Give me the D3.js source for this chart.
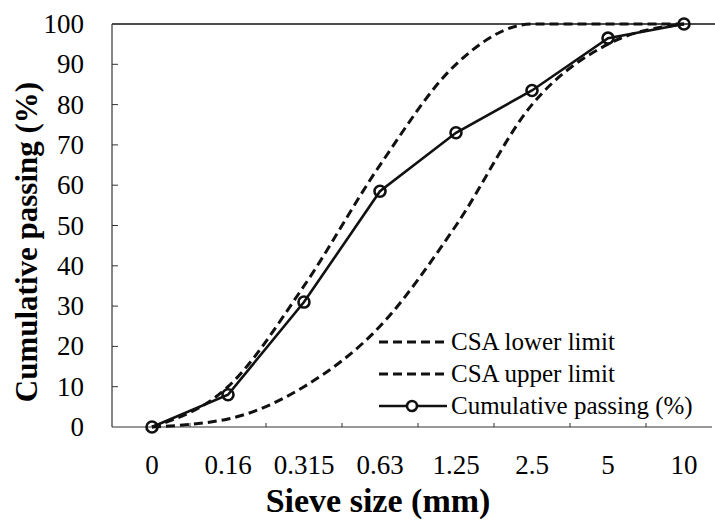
<!DOCTYPE html>
<html>
<head>
<meta charset="utf-8">
<script src="https://cdn.jsdelivr.net/npm/d3@7"></script>
</head>
<body style="margin:0">
<script>
const sieveSizes = ['0', '0.16', '0.315', '0.63', '1.25', '2.5', '5', '10'];
const lowerLimit = [0, 2, 10, 25, 50, 80, 95, 100];
const upperLimit = [0, 10, 35, 65, 90, 100, 100, 100];
const cumulativePassing = [0, 8, 31, 58.5, 73, 83.5, 96.5, 100];
const yTicks = [0, 10, 20, 30, 40, 50, 60, 70, 80, 90, 100];

const width = 715;
const height = 520;
const plotLeft = 112, plotTop = 24, plotBottom = 427;
const serifFont = () => '"Liberation Serif"';

const svg = d3.select('body').append('svg')
    .attr('width', width)
    .attr('height', height);

const x = d3.scaleBand()
    .domain(sieveSizes)
    .range([ 114, 722 ]);

const y = d3.scaleLinear()
    .domain([ 0, 100 ])
    .range([ plotBottom, plotTop ]);

const cx = d => x(d) + x.bandwidth() / 2;

// frame
svg.append('line')
    .attr('x1', plotLeft).attr('x2', width)
    .attr('y1', plotTop).attr('y2', plotTop)
    .attr('stroke', '#111').attr('stroke-width', 1.5);
svg.append('line')
    .attr('x1', plotLeft).attr('x2', plotLeft)
    .attr('y1', plotTop).attr('y2', plotBottom)
    .attr('stroke', '#333').attr('stroke-width', 1.2);
svg.append('line')
    .attr('x1', plotLeft).attr('x2', 712)
    .attr('y1', plotBottom).attr('y2', plotBottom)
    .attr('stroke', '#333').attr('stroke-width', 1.2);

// y ticks + labels
svg.selectAll('.ytick')
    .data(yTicks.slice(1, -1))
  .enter().append('line')
    .attr('x1', plotLeft).attr('x2', plotLeft + 6)
    .attr('y1', d => y(d)).attr('y2', d => y(d))
    .attr('stroke', '#333');

svg.selectAll('.ylab')
    .data(yTicks)
  .enter().append('text')
    .attr('x', 84)
    .attr('y', d => y(d) + 9)
    .attr('text-anchor', 'end')
    .attr('font-size', 27)
    .style('font-family', serifFont)
    .text(d => d);

// x ticks at category boundaries
svg.selectAll('.xtick')
    .data(sieveSizes.slice(1))
  .enter().append('line')
    .attr('x1', d => x(d)).attr('x2', d => x(d))
    .attr('y1', plotBottom).attr('y2', plotBottom - 4)
    .attr('stroke', '#333');

svg.selectAll('.xlab')
    .data(sieveSizes)
  .enter().append('text')
    .attr('x', d => cx(d))
    .attr('y', 474)
    .attr('text-anchor', 'middle')
    .attr('font-size', 27)
    .style('font-family', serifFont)
    .text(d => d);

// axis titles
svg.append('text')
    .attr('x', 378).attr('y', 512)
    .attr('text-anchor', 'middle')
    .attr('font-size', 34)
    .attr('font-weight', 'bold')
    .style('font-family', serifFont)
    .text('Sieve size (mm)');

svg.append('text')
    .attr('transform', 'translate(37,242) rotate(-90)')
    .attr('text-anchor', 'middle')
    .attr('font-size', 31)
    .attr('font-weight', 'bold')
    .style('font-family', serifFont)
    .text('Cumulative passing (%)');

// lines
const smooth = d3.line()
    .x((d, i) => cx(sieveSizes[i]))
    .y(d => y(d))
    .curve(d3.curveMonotoneX);

const straight = d3.line()
    .x((d, i) => cx(sieveSizes[i]))
    .y(d => y(d));

[lowerLimit, upperLimit].forEach(series => {
  svg.append('path')
      .datum(series)
      .attr('d', smooth)
      .attr('fill', 'none')
      .attr('stroke', '#111')
      .attr('stroke-width', 3)
      .attr('stroke-dasharray', '9,5');
});

svg.append('path')
    .datum(cumulativePassing)
    .attr('d', straight)
    .attr('fill', 'none')
    .attr('stroke', '#111')
    .attr('stroke-width', 2.6);

svg.selectAll('.pt')
    .data(cumulativePassing)
  .enter().append('circle')
    .attr('cx', (d, i) => cx(sieveSizes[i]))
    .attr('cy', d => y(d))
    .attr('r', 5.5)
    .attr('fill', 'none')
    .attr('stroke', '#111')
    .attr('stroke-width', 2.6);

// legend
const legend = [
  { name: 'CSA lower limit', dash: '9,5', marker: false },
  { name: 'CSA upper limit', dash: '9,5', marker: false },
  { name: 'Cumulative passing (%)', dash: null, marker: true },
];

const lg = svg.selectAll('.legend')
    .data(legend)
  .enter().append('g')
    .attr('transform', (d, i) => `translate(379,${342 + i * 32})`);

lg.append('line')
    .attr('x1', 0).attr('x2', 68)
    .attr('y1', 0).attr('y2', 0)
    .attr('stroke', '#111')
    .attr('stroke-width', d => d.marker ? 2.6 : 3)
    .attr('stroke-dasharray', d => d.dash);

lg.filter(d => d.marker).append('circle')
    .attr('cx', 33).attr('cy', 0).attr('r', 5)
    .attr('fill', '#fff').attr('stroke', '#111').attr('stroke-width', 2.6);

lg.append('text')
    .attr('x', 72).attr('y', 8)
    .attr('font-size', 25)
    .style('font-family', serifFont)
    .text(d => d.name);
</script>
</body>
</html>
